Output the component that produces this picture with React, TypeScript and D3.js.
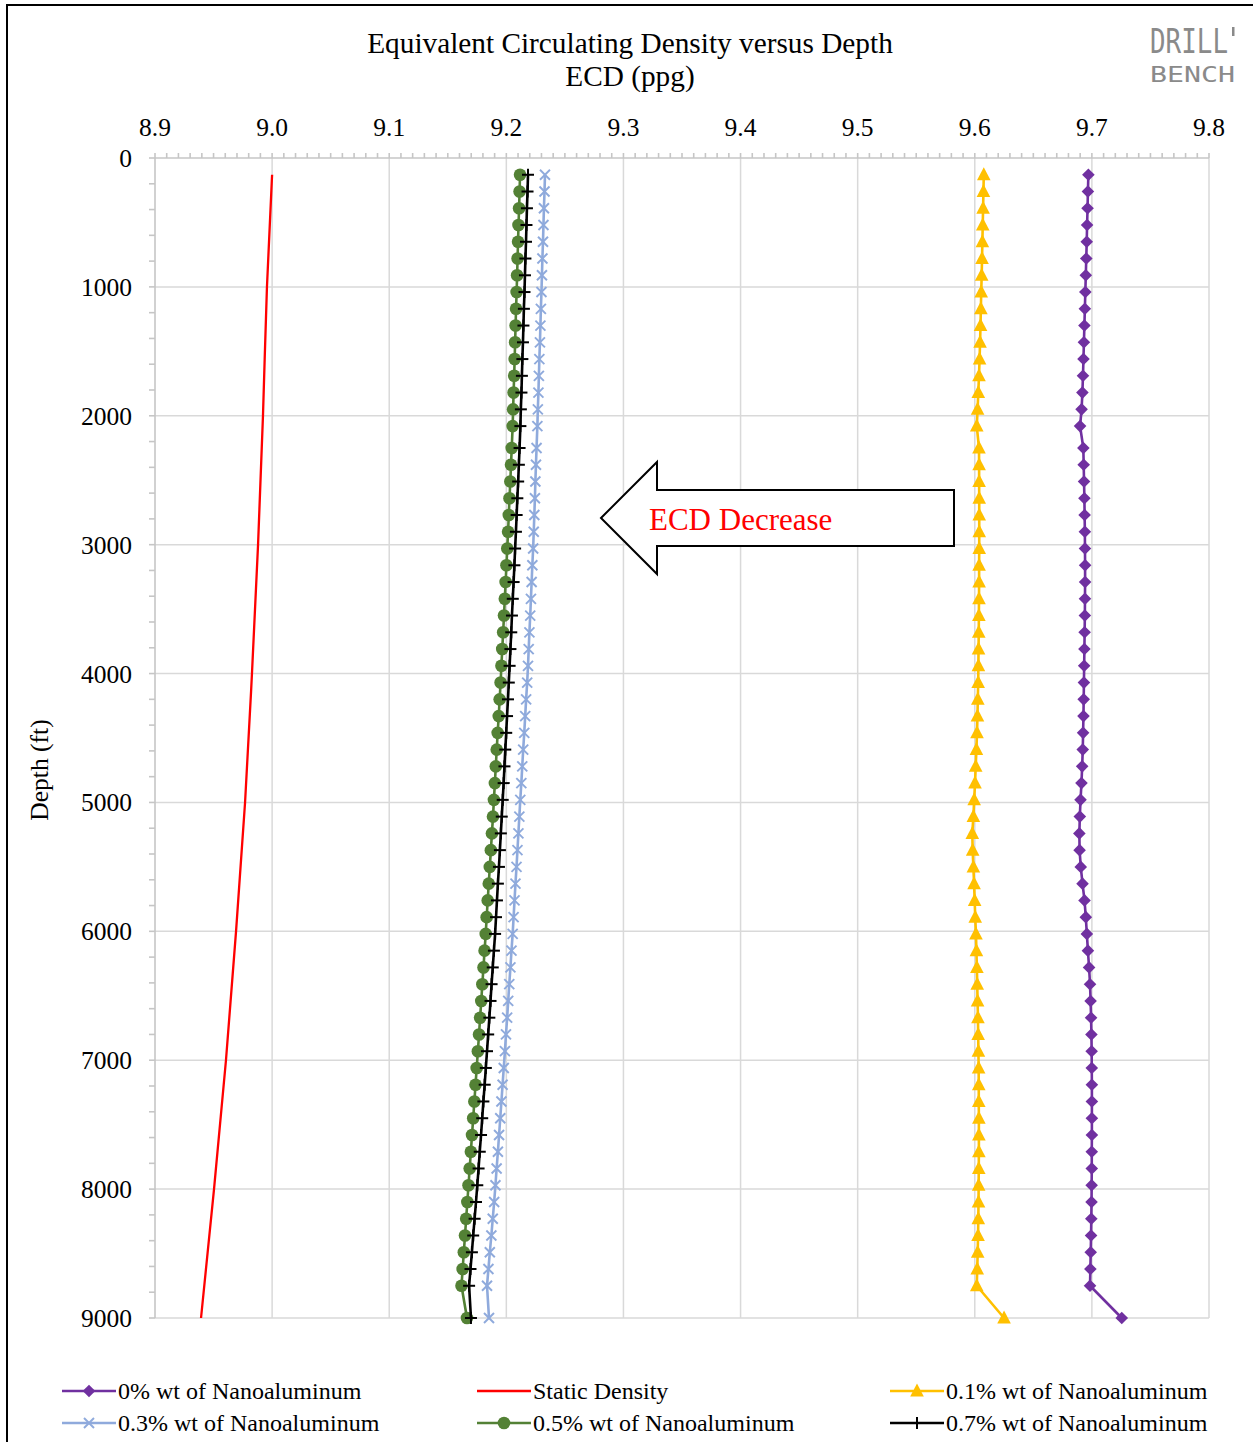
import React from "react";
import * as d3 from "d3";

const DEPTHS = [
  130, 260, 390, 520, 650, 780, 910, 1040, 1170, 1300, 1430, 1560, 1690, 1820, 1950, 2080,
  2250, 2380, 2510, 2640, 2770, 2900, 3030, 3160, 3290, 3420, 3550, 3680, 3810, 3940,
  4070, 4200, 4330, 4460, 4590, 4720, 4850, 4980,
  5110, 5240, 5370, 5500, 5630, 5760, 5890,
  6020, 6150, 6280, 6410, 6540, 6670, 6800, 6930,
  7060, 7190, 7320, 7450, 7580, 7710, 7840, 7970,
  8100, 8230, 8360, 8490, 8620, 8750,
  9000,
];

const ECD_0 = [
  9.6970, 9.6966, 9.6963, 9.6959, 9.6956, 9.6952, 9.6948, 9.6944, 9.6940, 9.6936, 9.6932, 9.6928, 9.6924, 9.6919, 9.6912, 9.6899,
  9.6927, 9.6930, 9.6933, 9.6936, 9.6938, 9.6940, 9.6941, 9.6942, 9.6942, 9.6941, 9.6940, 9.6938, 9.6936, 9.6934,
  9.6932, 9.6930, 9.6928, 9.6925, 9.6922, 9.6917, 9.6911, 9.6903,
  9.6897, 9.6893, 9.6895, 9.6905, 9.6920, 9.6937, 9.6948,
  9.6957, 9.6966, 9.6976, 9.6984, 9.6989, 9.6993, 9.6996, 9.6998,
  9.6999, 9.7000, 9.7000, 9.7000, 9.7000, 9.6999, 9.6999, 9.6998,
  9.6997, 9.6995, 9.6993, 9.6990, 9.6987, 9.6984,
  9.7255,
];

const ECD_01 = [
  9.6077, 9.6074, 9.6071, 9.6068, 9.6065, 9.6062, 9.6059, 9.6055, 9.6052, 9.6049, 9.6045, 9.6041, 9.6036, 9.6030, 9.6024, 9.6017,
  9.6036, 9.6037, 9.6037, 9.6038, 9.6038, 9.6038, 9.6038, 9.6037, 9.6037, 9.6036, 9.6035, 9.6034, 9.6032, 9.6031,
  9.6029, 9.6026, 9.6023, 9.6019, 9.6014, 9.6008, 9.6002, 9.5995,
  9.5988, 9.5979, 9.5982, 9.5988, 9.5994, 9.5999, 9.6004,
  9.6010, 9.6014, 9.6018, 9.6021, 9.6024, 9.6027, 9.6029, 9.6031,
  9.6033, 9.6034, 9.6034, 9.6035, 9.6035, 9.6035, 9.6034, 9.6033,
  9.6032, 9.6030, 9.6028, 9.6025, 9.6021, 9.6017,
  9.6250,
];

const ECD_03 = [
  9.2330, 9.2326, 9.2321, 9.2317, 9.2313, 9.2308, 9.2304, 9.2300, 9.2295, 9.2291, 9.2287, 9.2282, 9.2278, 9.2274, 9.2269, 9.2265,
  9.2258, 9.2253, 9.2248, 9.2244, 9.2239, 9.2234, 9.2229, 9.2222, 9.2216, 9.2210, 9.2204, 9.2197, 9.2191, 9.2185,
  9.2178, 9.2169, 9.2161, 9.2153, 9.2144, 9.2136, 9.2128, 9.2119,
  9.2111, 9.2103, 9.2095, 9.2087, 9.2078, 9.2070, 9.2062,
  9.2054, 9.2044, 9.2035, 9.2025, 9.2016, 9.2007, 9.1997, 9.1988,
  9.1978, 9.1968, 9.1958, 9.1948, 9.1938, 9.1928, 9.1917, 9.1907,
  9.1896, 9.1884, 9.1872, 9.1859, 9.1847, 9.1835,
  9.1852,
];

const ECD_05 = [
  9.2117, 9.2113, 9.2109, 9.2104, 9.2100, 9.2096, 9.2092, 9.2088, 9.2083, 9.2079, 9.2075, 9.2071, 9.2067, 9.2062, 9.2058, 9.2054,
  9.2046, 9.2040, 9.2034, 9.2027, 9.2021, 9.2015, 9.2008, 9.2001, 9.1994, 9.1987, 9.1980, 9.1973, 9.1965, 9.1958,
  9.1951, 9.1943, 9.1935, 9.1926, 9.1918, 9.1910, 9.1902, 9.1894,
  9.1886, 9.1877, 9.1868, 9.1859, 9.1850, 9.1841, 9.1832,
  9.1824, 9.1814, 9.1805, 9.1795, 9.1786, 9.1776, 9.1767, 9.1757,
  9.1747, 9.1737, 9.1727, 9.1717, 9.1707, 9.1697, 9.1687, 9.1677,
  9.1667, 9.1657, 9.1647, 9.1637, 9.1627, 9.1617,
  9.1664,
];

const ECD_07 = [
  9.2185, 9.2181, 9.2176, 9.2172, 9.2168, 9.2163, 9.2159, 9.2155, 9.2150, 9.2146, 9.2142, 9.2137, 9.2133, 9.2129, 9.2124, 9.2120,
  9.2113, 9.2107, 9.2101, 9.2094, 9.2088, 9.2082, 9.2075, 9.2069, 9.2062, 9.2055, 9.2048, 9.2042, 9.2035, 9.2028,
  9.2021, 9.2014, 9.2006, 9.1999, 9.1991, 9.1984, 9.1977, 9.1969,
  9.1961, 9.1953, 9.1945, 9.1937, 9.1928, 9.1920, 9.1912,
  9.1904, 9.1894, 9.1884, 9.1874, 9.1865, 9.1855, 9.1845, 9.1835,
  9.1825, 9.1815, 9.1804, 9.1794, 9.1784, 9.1773, 9.1763, 9.1752,
  9.1741, 9.1729, 9.1717, 9.1706, 9.1694, 9.1682,
  9.1698,
];

const STATIC_DEPTHS = [130, 1000, 2000, 3000, 4000, 5000, 6000, 7000, 8000, 9000];
const STATIC_VALUES = [9.0, 8.9956, 8.9922, 8.988, 8.9828, 8.9769, 8.9692, 8.9606, 8.9504, 8.9393];

const X_TICKS = [8.9, 9.0, 9.1, 9.2, 9.3, 9.4, 9.5, 9.6, 9.7, 9.8];
const Y_TICKS = [0, 1000, 2000, 3000, 4000, 5000, 6000, 7000, 8000, 9000];

const SERIES_NAMES = [
  "0% wt of Nanoaluminum",
  "Static Density",
  "0.1% wt of Nanoaluminum",
  "0.3% wt of Nanoaluminum",
  "0.5% wt of Nanoaluminum",
  "0.7% wt of Nanoaluminum",
];

const PURPLE = "#7030a0";
const RED = "#ff0000";
const YELLOW = "#ffc000";
const BLUE = "#8faadc";
const GREEN = "#538135";
const BLACK = "#000000";

const FONT = "'Liberation Serif', 'Times New Roman', serif";

type MarkerKind = "diamond" | "none" | "triangle" | "x" | "circle" | "plus";

function Marker({ kind, cx, cy, color }: { kind: MarkerKind; cx: number; cy: number; color: string }) {
  if (kind === "diamond") {
    const h = 6.3;
    return <path d={`M${cx},${cy - h}L${cx + h},${cy}L${cx},${cy + h}L${cx - h},${cy}Z`} fill={color} />;
  }
  if (kind === "triangle") {
    return <path d={`M${cx},${cy - 7.5}L${cx + 6.8},${cy + 5.5}L${cx - 6.8},${cy + 5.5}Z`} fill={color} />;
  }
  if (kind === "x") {
    const h = 5;
    return (
      <g stroke={color} strokeWidth={1.9}>
        <line x1={cx - h} y1={cy - h} x2={cx + h} y2={cy + h} />
        <line x1={cx - h} y1={cy + h} x2={cx + h} y2={cy - h} />
      </g>
    );
  }
  if (kind === "circle") {
    return <circle cx={cx} cy={cy} r={6.3} fill={color} />;
  }
  if (kind === "plus") {
    const h = 6;
    return (
      <g stroke={color} strokeWidth={2}>
        <line x1={cx - h} y1={cy} x2={cx + h} y2={cy} />
        <line x1={cx} y1={cy - h} x2={cx} y2={cy + h} />
      </g>
    );
  }
  return null;
}

export default function App() {
  const W = 1253;
  const H = 1442;
  const x = d3.scaleLinear().domain([8.9, 9.8]).range([155, 1209]);
  const y = d3.scaleLinear().domain([0, 9000]).range([158, 1318]);

  const series: { name: string; values: number[]; depths: number[]; color: string; marker: MarkerKind; width: number }[] = [
    { name: SERIES_NAMES[0], values: ECD_0, depths: DEPTHS, color: PURPLE, marker: "diamond", width: 2.6 },
    { name: SERIES_NAMES[1], values: STATIC_VALUES, depths: STATIC_DEPTHS, color: RED, marker: "none", width: 2.3 },
    { name: SERIES_NAMES[2], values: ECD_01, depths: DEPTHS, color: YELLOW, marker: "triangle", width: 2.6 },
    { name: SERIES_NAMES[3], values: ECD_03, depths: DEPTHS, color: BLUE, marker: "x", width: 2.6 },
    { name: SERIES_NAMES[4], values: ECD_05, depths: DEPTHS, color: GREEN, marker: "circle", width: 2.6 },
    { name: SERIES_NAMES[5], values: ECD_07, depths: DEPTHS, color: BLACK, marker: "plus", width: 2.6 },
  ];

  const makePath = (vals: number[], deps: number[], smooth: boolean) => {
    const gen = d3
      .line<number>()
      .x((v) => x(v))
      .y((_v, i) => y(deps[i]));
    if (smooth) gen.curve(d3.curveMonotoneY);
    return gen(vals) || "";
  };

  const topMinor = x.ticks(90);
  const leftMinor = y.ticks(45);

  const legendPos = [
    { lx: 62, ly: 1391 },
    { lx: 477, ly: 1391 },
    { lx: 890, ly: 1391 },
    { lx: 62, ly: 1423 },
    { lx: 477, ly: 1423 },
    { lx: 890, ly: 1423 },
  ];

  const arrowPath = `M601,518 L657,462 L657,490 L954,490 L954,546 L657,546 L657,574 Z`;

  return (
    <svg
      width={W}
      height={H}
      viewBox={`0 0 ${W} ${H}`}
      style={{ position: "absolute", left: 0, top: 0, display: "block", background: "#fff" }}
      fontFamily={FONT}
    >
      <rect x={0} y={0} width={W} height={H} fill="#fff" />
      {/* outer frame (cropped on right/bottom) */}
      <rect x={7} y={5} width={W + 20} height={H + 20} fill="none" stroke="#000" strokeWidth={2} />

      {/* title */}
      <text x={630} y={53} textAnchor="middle" fontSize={29.3} fill="#000">
        Equivalent Circulating Density versus Depth
      </text>
      <text x={630} y={86} textAnchor="middle" fontSize={29.3} fill="#000">
        ECD (ppg)
      </text>

      {/* logo */}
      <text
        x={1150}
        y={53}
        fontSize={34}
        fontFamily="'DejaVu Sans Mono', monospace"
        fill="#8a8a8a"
        textLength={78}
        lengthAdjust="spacingAndGlyphs"
      >
        DRILL
      </text>
      <rect x={1232} y={27} width={2.5} height={9} fill="#8a8a8a" />
      <text
        x={1150}
        y={82}
        fontSize={22}
        fontFamily="'DejaVu Sans Mono', monospace"
        fill="#8a8a8a"
        textLength={85}
        lengthAdjust="spacingAndGlyphs"
      >
        BENCH
      </text>

      {/* gridlines */}
      <g stroke="#d9d9d9" strokeWidth={1.5}>
        {X_TICKS.slice(1).map((t) => (
          <line key={"gx" + t} x1={x(t)} x2={x(t)} y1={y(0)} y2={y(9000)} />
        ))}
        {Y_TICKS.slice(1).map((t) => (
          <line key={"gy" + t} x1={x(8.9)} x2={x(9.8)} y1={y(t)} y2={y(t)} />
        ))}
      </g>

      {/* axes */}
      <g stroke="#c6c6c6" strokeWidth={1.6}>
        <line x1={x(8.9)} x2={x(9.8)} y1={y(0)} y2={y(0)} />
        <line x1={x(8.9)} x2={x(8.9)} y1={y(0)} y2={y(9000)} />
        {topMinor.map((t, i) => (
          <line key={"tm" + i} x1={x(t)} x2={x(t)} y1={y(0)} y2={y(0) - 5} />
        ))}
        {leftMinor.map((t, i) => (
          <line key={"lm" + i} x1={x(8.9)} x2={x(8.9) - 6} y1={y(t)} y2={y(t)} />
        ))}
      </g>

      {/* tick labels */}
      <g fontSize={25.5} fill="#000">
        {X_TICKS.map((t) => (
          <text key={"xl" + t} x={x(t)} y={136} textAnchor="middle">
            {t.toFixed(1)}
          </text>
        ))}
        {Y_TICKS.map((t) => (
          <text key={"yl" + t} x={132} y={y(t) + 9} textAnchor="end">
            {t}
          </text>
        ))}
      </g>

      {/* y axis title */}
      <text
        transform={`translate(48,770) rotate(-90)`}
        textAnchor="middle"
        fontSize={25.5}
        fill="#000"
      >
        Depth (ft)
      </text>

      {/* series */}
      {series.map((s, si) => (
        <g key={"s" + si}>
          <path
            d={makePath(s.values, s.depths, s.marker === "none")}
            fill="none"
            stroke={s.color}
            strokeWidth={s.width}
            strokeLinejoin="round"
          />
          {s.marker !== "none" &&
            s.values.map((v, i) => (
              <Marker key={i} kind={s.marker} cx={x(v)} cy={y(s.depths[i])} color={s.color} />
            ))}
        </g>
      ))}

      {/* annotation arrow */}
      <path d={arrowPath} fill="#fff" stroke="#000" strokeWidth={2} />
      <text x={649} y={530} fontSize={31} fill="#ff0000">
        ECD Decrease
      </text>

      {/* legend */}
      {series.map((s, i) => {
        const p = legendPos[i];
        return (
          <g key={"lg" + i}>
            <line x1={p.lx} x2={p.lx + 54} y1={p.ly} y2={p.ly} stroke={s.color} strokeWidth={2.5} />
            <Marker kind={s.marker} cx={p.lx + 27} cy={p.ly} color={s.color} />
            <text x={p.lx + 56} y={p.ly + 8} fontSize={24} fill="#000">
              {s.name}
            </text>
          </g>
        );
      })}
    </svg>
  );
}
